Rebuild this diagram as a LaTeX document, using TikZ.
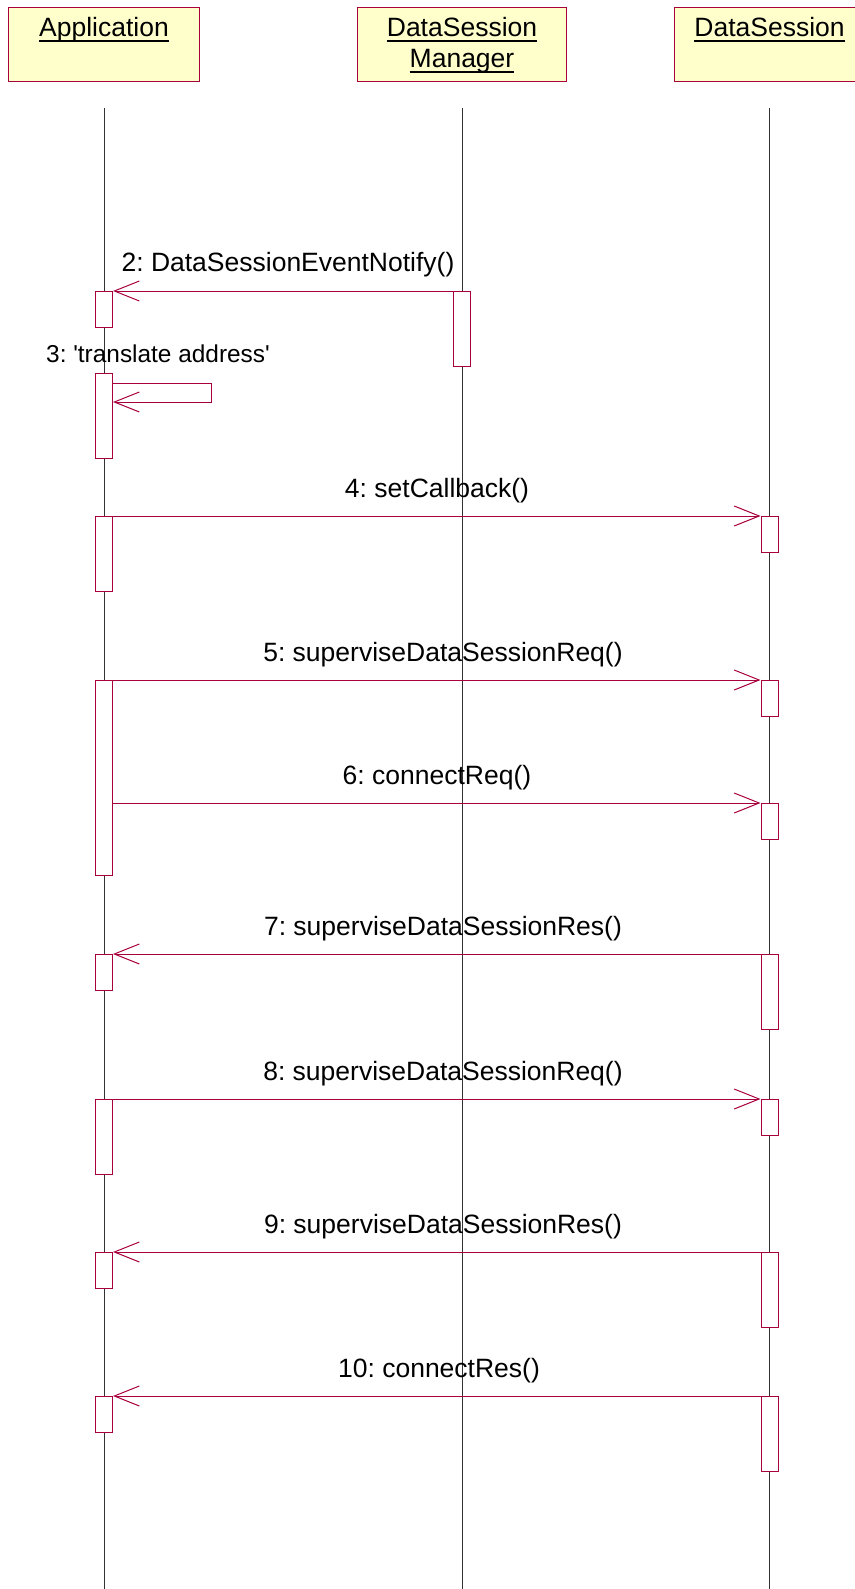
\documentclass[tikz,border=0pt]{standalone}
\usepackage{fontspec}
\setmainfont{Liberation Sans}
\usetikzlibrary{arrows.meta,calc}
\definecolor{umlred}{RGB}{168,0,60}
\definecolor{umlyellow}{RGB}{255,255,204}
\newcommand{\objname}[1]{\setbox0\hbox{#1}\rlap{\rule[-5pt]{\wd0}{1.6pt}}\box0}
\frenchspacing

\begin{document}
\begin{tikzpicture}[x=1pt,y=-1pt,
	obj/.style={draw=umlred,fill=umlyellow,line width=1pt,minimum width=191pt,minimum height=74pt,anchor=north,inner sep=0pt},
	act/.style={draw=umlred,fill=white,line width=1pt,minimum width=17pt,anchor=north,inner sep=0pt},
	msg/.style={draw=umlred,line width=1pt,line join=miter,-{Straight Barb[length=25pt,width=20pt,line width=1pt]}},
	lifeline/.style={draw=black!80,line width=1pt},
	lbl/.style={anchor=base,inner sep=0pt,font=\fontsize{26.5}{31}\selectfont}]
	\useasboundingbox (0,0) rectangle (854,1589);
	% objects
	\node[obj] (app) at (104,7) {};
	\node[obj,minimum width=209pt] (mgr) at (462,7) {};
	\node[obj] (ses) at (769.5,7) {};
	\node[lbl] (appName) at (104,37) {\objname{Application}};
	\node[lbl] (mgrName) at (462,37) {\objname{DataSession}};
	\node[lbl] (mgrName2) at (462,68) {\objname{Manager}};
	\node[lbl] (sesName) at (769.5,37) {\objname{DataSession}};
	% lifelines
	\foreach \n/\x in {app/104,mgr/462,ses/769.5}
		{
		\coordinate (\n Top) at (\x,108);
		\coordinate (\n Bot) at (\x,1589);
		\draw[lifeline] (\n Top) -- (\n Bot);
		}

	% 2
	\node[act,minimum height=36pt] (a2) at (104,291) {};
	\node[act,minimum height=75pt] (m2) at (462,291) {};
	\draw[msg] (m2.north west) -- (a2.north east);
	\node[lbl] (l2) at (288,272) {2: DataSessionEventNotify()};
	% 3
	\node[act,minimum height=85pt] (a3) at (104,373) {};
	\draw[msg] ($(a3.north east)+(0,10)$) -| ($(a3.north east)+(98,29)$) -- ($(a3.north east)+(0,29)$);
	\node[lbl,font=\fontsize{24.4}{29}\selectfont] (l3) at (158,362) {3: \textquotesingle translate address\textquotesingle};
	% 4
	\node[act,minimum height=75pt] (a4) at (104,516) {};
	\node[act,minimum height=36pt] (s4) at (769.5,516) {};
	\draw[msg] (a4.north east) -- (s4.north west);
	\node[lbl] (l4) at (437,497) {4: setCallback()};
	% 5
	\node[act,minimum height=195pt] (a5) at (104,680) {};
	\node[act,minimum height=36pt] (s5) at (769.5,680) {};
	\draw[msg] (a5.north east) -- (s5.north west);
	\node[lbl] (l5) at (443,661) {5: superviseDataSessionReq()};
	% 6
	\node[act,minimum height=36pt] (s6) at (769.5,803) {};
	\draw[msg] (a5.east |- s6.north) -- (s6.north west);
	\node[lbl] (l6) at (437,784) {6: connectReq()};
	% 7
	\node[act,minimum height=36pt] (a7) at (104,954) {};
	\node[act,minimum height=75pt] (s7) at (769.5,954) {};
	\draw[msg] (s7.north west) -- (a7.north east);
	\node[lbl] (l7) at (443,935) {7: superviseDataSessionRes()};
	% 8
	\node[act,minimum height=75pt] (a8) at (104,1099) {};
	\node[act,minimum height=36pt] (s8) at (769.5,1099) {};
	\draw[msg] (a8.north east) -- (s8.north west);
	\node[lbl] (l8) at (443,1080) {8: superviseDataSessionReq()};
	% 9
	\node[act,minimum height=36pt] (a9) at (104,1252) {};
	\node[act,minimum height=75pt] (s9) at (769.5,1252) {};
	\draw[msg] (s9.north west) -- (a9.north east);
	\node[lbl] (l9) at (443,1233) {9: superviseDataSessionRes()};
	% 10
	\node[act,minimum height=36pt] (a10) at (104,1396) {};
	\node[act,minimum height=75pt] (s10) at (769.5,1396) {};
	\draw[msg] (s10.north west) -- (a10.north east);
	\node[lbl] (l10) at (439,1377) {10: connectRes()};
\end{tikzpicture}
\end{document}
